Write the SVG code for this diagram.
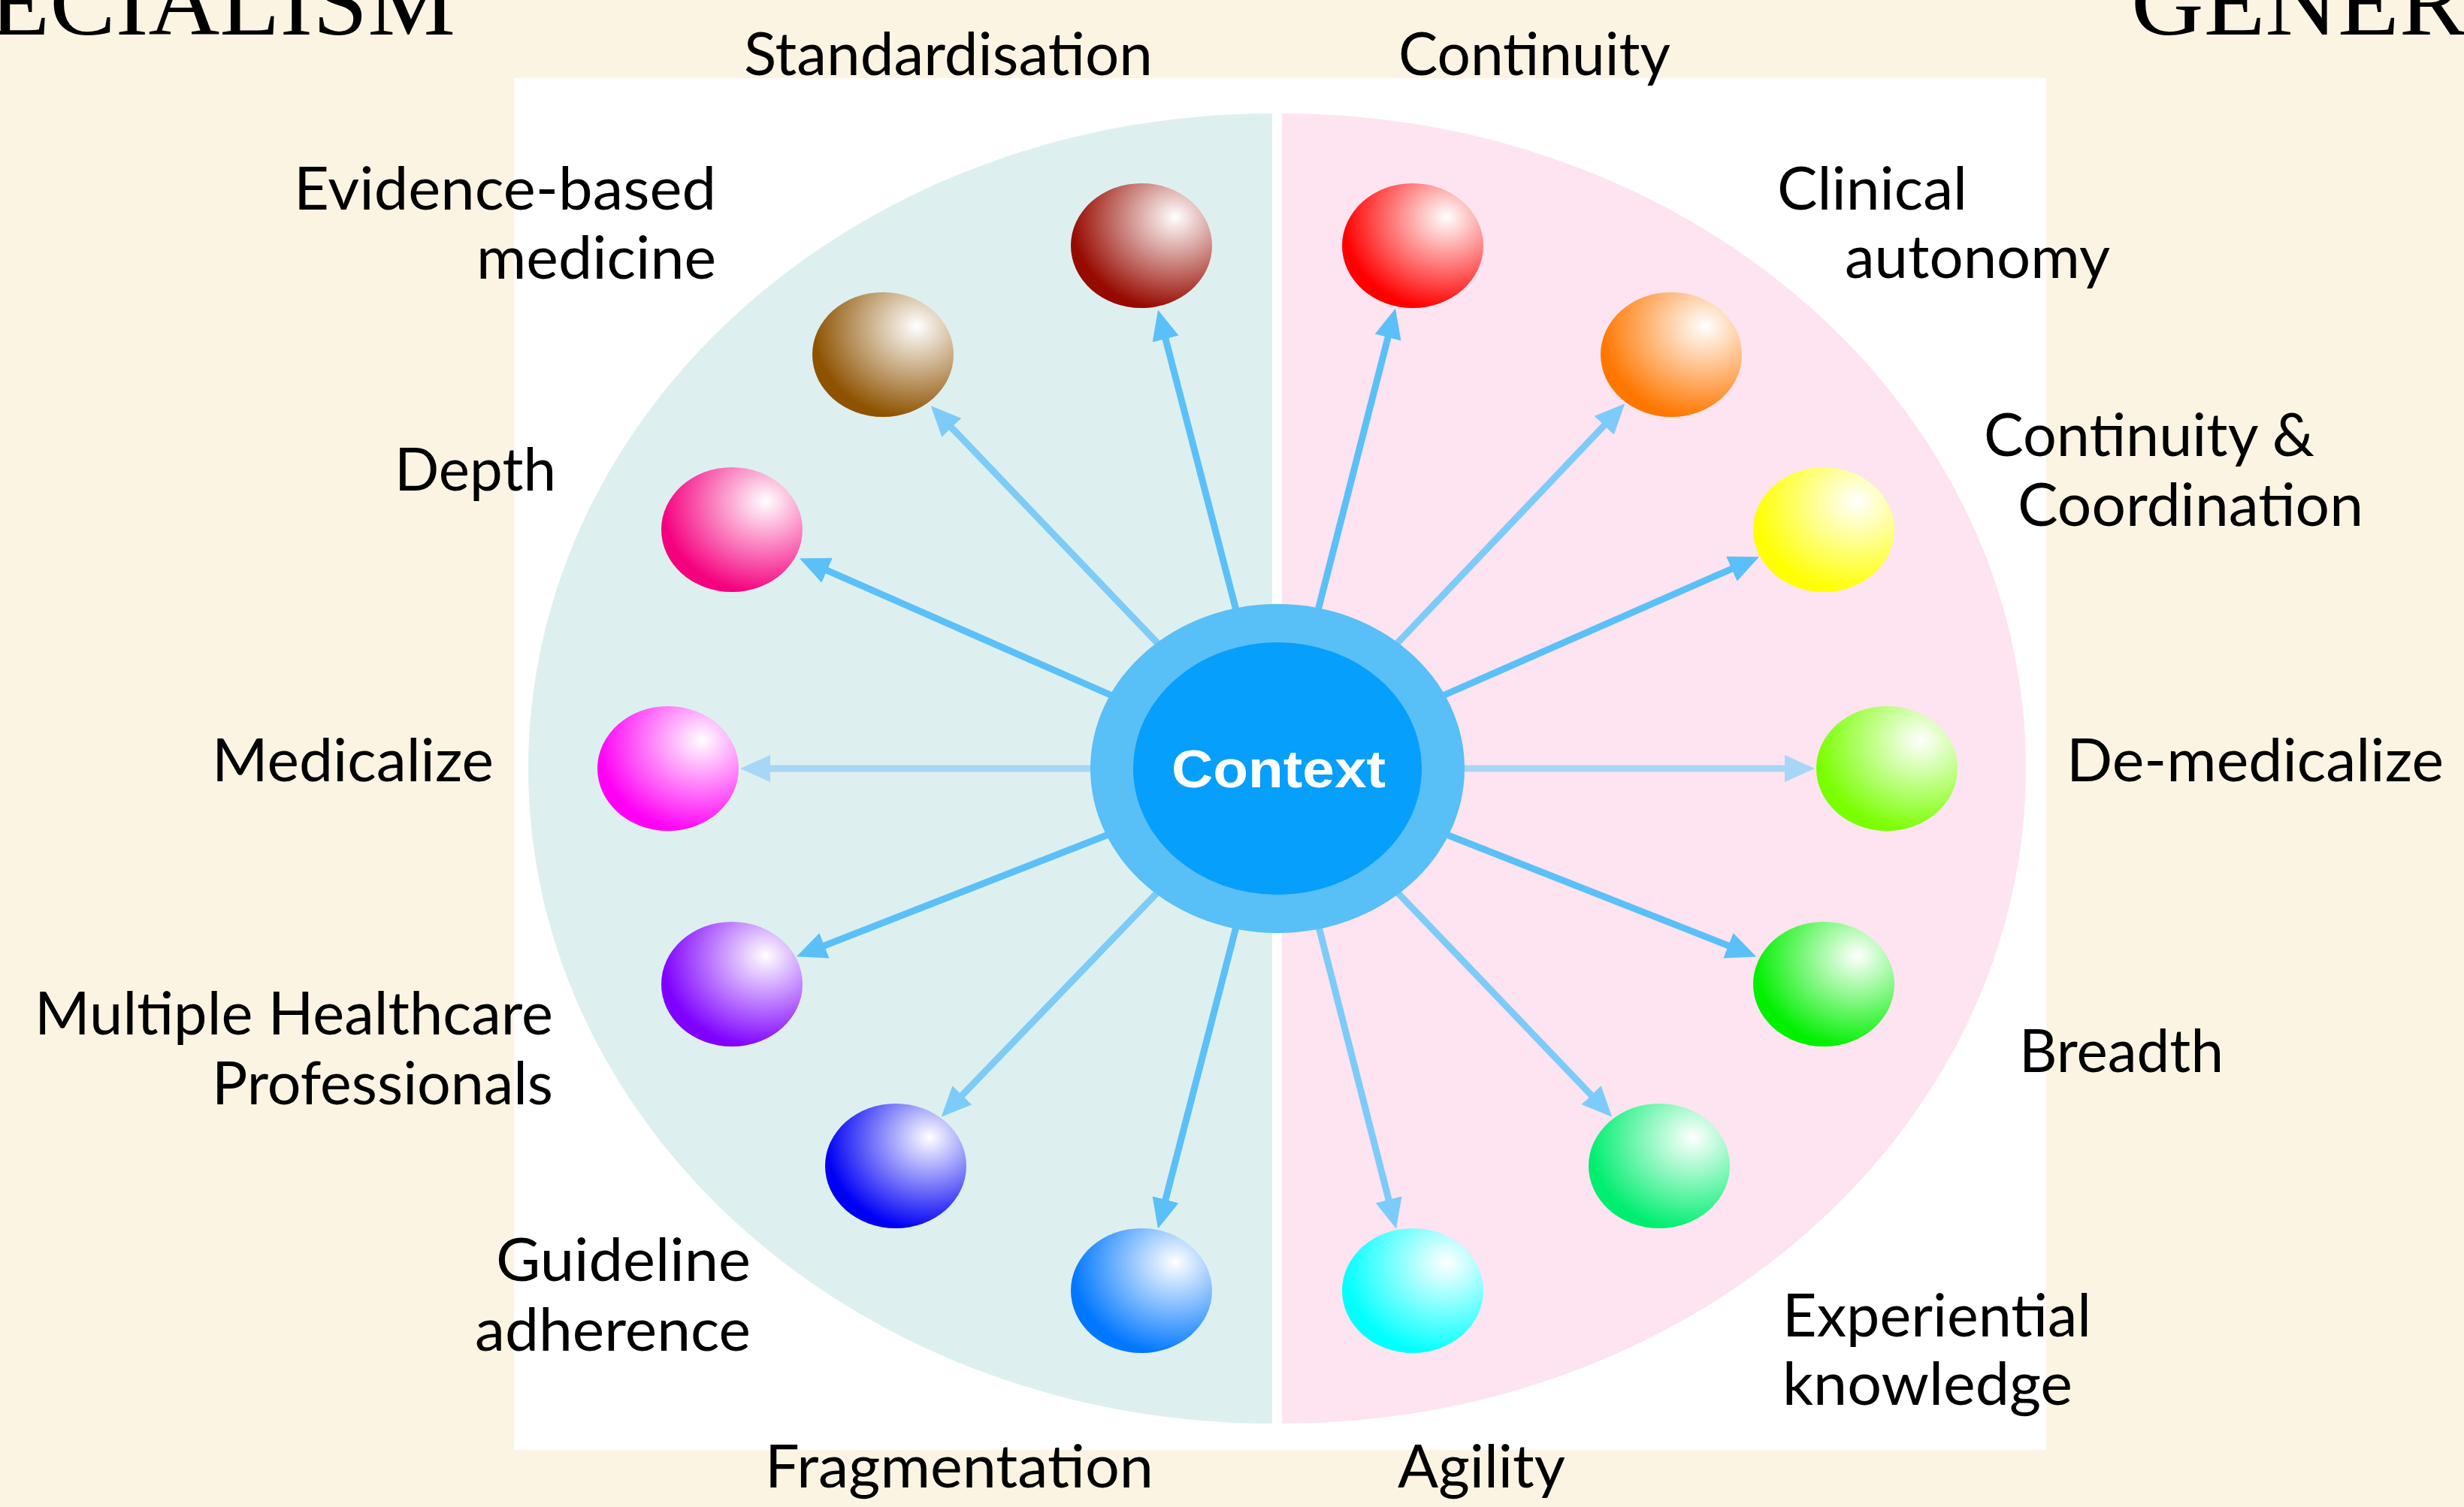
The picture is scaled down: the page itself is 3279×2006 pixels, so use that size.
<svg xmlns="http://www.w3.org/2000/svg" width="3279" height="2006" viewBox="0 0 3279 2006">
<style>
.lbl{font-family:"Lato","Liberation Sans",sans-serif;font-size:80px;fill:#000;}
.title{font-family:"Liberation Serif","Times New Roman",serif;font-size:130px;fill:#000;}
.ctx{font-family:"Liberation Sans",Arial,sans-serif;font-weight:bold;font-size:71px;fill:#fff;}
.c-s{stroke:#5BC0F8;stroke-width:9;fill:none;}
.c-m{stroke:#7DCBF8;stroke-width:9;fill:none;}
.c-l{stroke:#A8D6F6;stroke-width:9;fill:none;}
</style>
<defs>
<marker id="ah-s" viewBox="0 0 40 36" refX="28" refY="18" markerWidth="40" markerHeight="36" markerUnits="userSpaceOnUse" orient="auto"><path d="M0,0 L40,18 L0,36 z" fill="#5BC0F8"/></marker>
<marker id="ah-m" viewBox="0 0 40 36" refX="28" refY="18" markerWidth="40" markerHeight="36" markerUnits="userSpaceOnUse" orient="auto"><path d="M0,0 L40,18 L0,36 z" fill="#7DCBF8"/></marker>
<marker id="ah-l" viewBox="0 0 40 36" refX="28" refY="18" markerWidth="40" markerHeight="36" markerUnits="userSpaceOnUse" orient="auto"><path d="M0,0 L40,18 L0,36 z" fill="#A8D6F6"/></marker>
<radialGradient id="g-maroon" cx="0.72" cy="0.3" r="0.9" fx="0.74" fy="0.27"><stop offset="0" stop-color="#fff"/><stop offset="0.8" stop-color="#970A00"/><stop offset="1" stop-color="#970A00"/></radialGradient>
<radialGradient id="g-brown" cx="0.72" cy="0.3" r="0.9" fx="0.74" fy="0.27"><stop offset="0" stop-color="#fff"/><stop offset="0.8" stop-color="#8E5200"/><stop offset="1" stop-color="#8E5200"/></radialGradient>
<radialGradient id="g-rose" cx="0.72" cy="0.3" r="0.9" fx="0.74" fy="0.27"><stop offset="0" stop-color="#fff"/><stop offset="0.8" stop-color="#F5007F"/><stop offset="1" stop-color="#F5007F"/></radialGradient>
<radialGradient id="g-magenta" cx="0.72" cy="0.3" r="0.9" fx="0.74" fy="0.27"><stop offset="0" stop-color="#fff"/><stop offset="0.8" stop-color="#FF00F5"/><stop offset="1" stop-color="#FF00F5"/></radialGradient>
<radialGradient id="g-purple" cx="0.72" cy="0.3" r="0.9" fx="0.74" fy="0.27"><stop offset="0" stop-color="#fff"/><stop offset="0.8" stop-color="#7F00FF"/><stop offset="1" stop-color="#7F00FF"/></radialGradient>
<radialGradient id="g-blue" cx="0.72" cy="0.3" r="0.9" fx="0.74" fy="0.27"><stop offset="0" stop-color="#fff"/><stop offset="0.8" stop-color="#0000F5"/><stop offset="1" stop-color="#0000F5"/></radialGradient>
<radialGradient id="g-azure" cx="0.72" cy="0.3" r="0.9" fx="0.74" fy="0.27"><stop offset="0" stop-color="#fff"/><stop offset="0.8" stop-color="#0077FF"/><stop offset="1" stop-color="#0077FF"/></radialGradient>
<radialGradient id="g-red" cx="0.72" cy="0.3" r="0.9" fx="0.74" fy="0.27"><stop offset="0" stop-color="#fff"/><stop offset="0.8" stop-color="#FF0000"/><stop offset="1" stop-color="#FF0000"/></radialGradient>
<radialGradient id="g-orange" cx="0.72" cy="0.3" r="0.9" fx="0.74" fy="0.27"><stop offset="0" stop-color="#fff"/><stop offset="0.8" stop-color="#FF7700"/><stop offset="1" stop-color="#FF7700"/></radialGradient>
<radialGradient id="g-yellow" cx="0.72" cy="0.3" r="0.9" fx="0.74" fy="0.27"><stop offset="0" stop-color="#fff"/><stop offset="0.8" stop-color="#FFFF00"/><stop offset="1" stop-color="#FFFF00"/></radialGradient>
<radialGradient id="g-lime" cx="0.72" cy="0.3" r="0.9" fx="0.74" fy="0.27"><stop offset="0" stop-color="#fff"/><stop offset="0.8" stop-color="#7AFF00"/><stop offset="1" stop-color="#7AFF00"/></radialGradient>
<radialGradient id="g-green" cx="0.72" cy="0.3" r="0.9" fx="0.74" fy="0.27"><stop offset="0" stop-color="#fff"/><stop offset="0.8" stop-color="#00F000"/><stop offset="1" stop-color="#00F000"/></radialGradient>
<radialGradient id="g-spring" cx="0.72" cy="0.3" r="0.9" fx="0.74" fy="0.27"><stop offset="0" stop-color="#fff"/><stop offset="0.8" stop-color="#00EE70"/><stop offset="1" stop-color="#00EE70"/></radialGradient>
<radialGradient id="g-cyan" cx="0.72" cy="0.3" r="0.9" fx="0.74" fy="0.27"><stop offset="0" stop-color="#fff"/><stop offset="0.8" stop-color="#00FFFF"/><stop offset="1" stop-color="#00FFFF"/></radialGradient>
</defs>

<rect x="0" y="0" width="3279" height="2006" fill="#FCF4E3"/>
<text class="title" x="-14" y="46" textLength="620" lengthAdjust="spacingAndGlyphs">ECIALISM</text>
<text class="title" x="2836" y="46" textLength="446" lengthAdjust="spacingAndGlyphs">GENER</text>

<rect x="684" y="104" width="2039" height="1826" fill="#FFFFFF"/>
<path d="M1693,151 A990,872 0 0 0 1693,1895 Z" fill="#DDF0EF"/>
<path d="M1706,151 A990,872 0 0 1 1706,1895 Z" fill="#FDE4F0"/>

<g id="connectors">
<line class="c-s" x1="1647" y1="820" x2="1544" y2="424" marker-end="url(#ah-s)"/>
<line class="c-m" x1="1548" y1="864" x2="1247" y2="549" marker-end="url(#ah-m)"/>
<line class="c-s" x1="1489" y1="930" x2="1075" y2="748" marker-end="url(#ah-s)"/>
<line class="c-l" x1="1464" y1="1023" x2="997" y2="1023" marker-end="url(#ah-l)"/>
<line class="c-s" x1="1485" y1="1107" x2="1071" y2="1269" marker-end="url(#ah-s)"/>
<line class="c-m" x1="1547" y1="1181" x2="1261" y2="1478" marker-end="url(#ah-m)"/>
<line class="c-s" x1="1647" y1="1226" x2="1544" y2="1624" marker-end="url(#ah-s)"/>
<line class="c-s" x1="1752" y1="820" x2="1854" y2="422" marker-end="url(#ah-s)"/>
<line class="c-m" x1="1852" y1="864" x2="2154" y2="546" marker-end="url(#ah-m)"/>
<line class="c-s" x1="1911" y1="930" x2="2330" y2="746" marker-end="url(#ah-s)"/>
<line class="c-l" x1="1936" y1="1023" x2="2403" y2="1023" marker-end="url(#ah-l)"/>
<line class="c-s" x1="1915" y1="1107" x2="2326" y2="1269" marker-end="url(#ah-s)"/>
<line class="c-m" x1="1853" y1="1181" x2="2137" y2="1478" marker-end="url(#ah-m)"/>
<line class="c-m" x1="1753" y1="1226" x2="1855" y2="1624" marker-end="url(#ah-m)"/>
</g>

<g id="context">
<ellipse cx="1700" cy="1023" rx="249" ry="219" fill="#58BFF7"/>
<ellipse cx="1700" cy="1023" rx="192" ry="168" fill="#069FFB"/>
<text class="ctx" x="1559" y="1048" textLength="285" lengthAdjust="spacingAndGlyphs">Context</text>
</g>

<g id="standardisation">
<ellipse cx="1519" cy="327" rx="94" ry="83" fill="url(#g-maroon)"/>
<text class="lbl" x="990" y="100" textLength="544" lengthAdjust="spacingAndGlyphs">Standardisation</text>
</g>
<g id="evidence-based-medicine">
<ellipse cx="1175" cy="472" rx="94" ry="83" fill="url(#g-brown)"/>
<text class="lbl" x="391" y="279" textLength="562" lengthAdjust="spacingAndGlyphs">Evidence-based</text>
<text class="lbl" x="634" y="371" textLength="319" lengthAdjust="spacingAndGlyphs">medicine</text>
</g>
<g id="depth">
<ellipse cx="974" cy="705" rx="94" ry="83" fill="url(#g-rose)"/>
<text class="lbl" x="525" y="653" textLength="215" lengthAdjust="spacingAndGlyphs">Depth</text>
</g>
<g id="medicalize">
<ellipse cx="889" cy="1023" rx="94" ry="83" fill="url(#g-magenta)"/>
<text class="lbl" x="282" y="1040" textLength="375" lengthAdjust="spacingAndGlyphs">Medicalize</text>
</g>
<g id="multiple-healthcare-professionals">
<ellipse cx="974" cy="1310" rx="94" ry="83" fill="url(#g-purple)"/>
<text class="lbl" x="46" y="1377" textLength="690" lengthAdjust="spacingAndGlyphs">Multiple Healthcare</text>
<text class="lbl" x="282" y="1470" textLength="454" lengthAdjust="spacingAndGlyphs">Professionals</text>
</g>
<g id="guideline-adherence">
<ellipse cx="1192" cy="1552" rx="94" ry="83" fill="url(#g-blue)"/>
<text class="lbl" x="660" y="1705" textLength="339" lengthAdjust="spacingAndGlyphs">Guideline</text>
<text class="lbl" x="632" y="1798" textLength="367" lengthAdjust="spacingAndGlyphs">adherence</text>
</g>
<g id="fragmentation">
<ellipse cx="1519" cy="1718" rx="94" ry="83" fill="url(#g-azure)"/>
<text class="lbl" x="1018" y="1980" textLength="517" lengthAdjust="spacingAndGlyphs">Fragmentation</text>
</g>
<g id="continuity">
<ellipse cx="1880" cy="327" rx="94" ry="83" fill="url(#g-red)"/>
<text class="lbl" x="1861" y="100" textLength="362" lengthAdjust="spacingAndGlyphs">Continuity</text>
</g>
<g id="clinical-autonomy">
<ellipse cx="2224" cy="472" rx="94" ry="83" fill="url(#g-orange)"/>
<text class="lbl" x="2365" y="279" textLength="253" lengthAdjust="spacingAndGlyphs">Clinical</text>
<text class="lbl" x="2455" y="370" textLength="353" lengthAdjust="spacingAndGlyphs">autonomy</text>
</g>
<g id="continuity-coordination">
<ellipse cx="2427" cy="705" rx="94" ry="83" fill="url(#g-yellow)"/>
<text class="lbl" x="2640" y="607" textLength="440" lengthAdjust="spacingAndGlyphs">Continuity &amp;</text>
<text class="lbl" x="2685" y="700" textLength="460" lengthAdjust="spacingAndGlyphs">Coordination</text>
</g>
<g id="de-medicalize">
<ellipse cx="2511" cy="1023" rx="94" ry="83" fill="url(#g-lime)"/>
<text class="lbl" x="2750" y="1040" textLength="502" lengthAdjust="spacingAndGlyphs">De-medicalize</text>
</g>
<g id="breadth">
<ellipse cx="2427" cy="1310" rx="94" ry="83" fill="url(#g-green)"/>
<text class="lbl" x="2687" y="1427" textLength="272" lengthAdjust="spacingAndGlyphs">Breadth</text>
</g>
<g id="experiential-knowledge">
<ellipse cx="2208" cy="1552" rx="94" ry="83" fill="url(#g-spring)"/>
<text class="lbl" x="2372" y="1779" textLength="411" lengthAdjust="spacingAndGlyphs">Experiential</text>
<text class="lbl" x="2372" y="1870" textLength="386" lengthAdjust="spacingAndGlyphs">knowledge</text>
</g>
<g id="agility">
<ellipse cx="1880" cy="1718" rx="94" ry="83" fill="url(#g-cyan)"/>
<text class="lbl" x="1860" y="1980" textLength="223" lengthAdjust="spacingAndGlyphs">Agility</text>
</g>
</svg>
